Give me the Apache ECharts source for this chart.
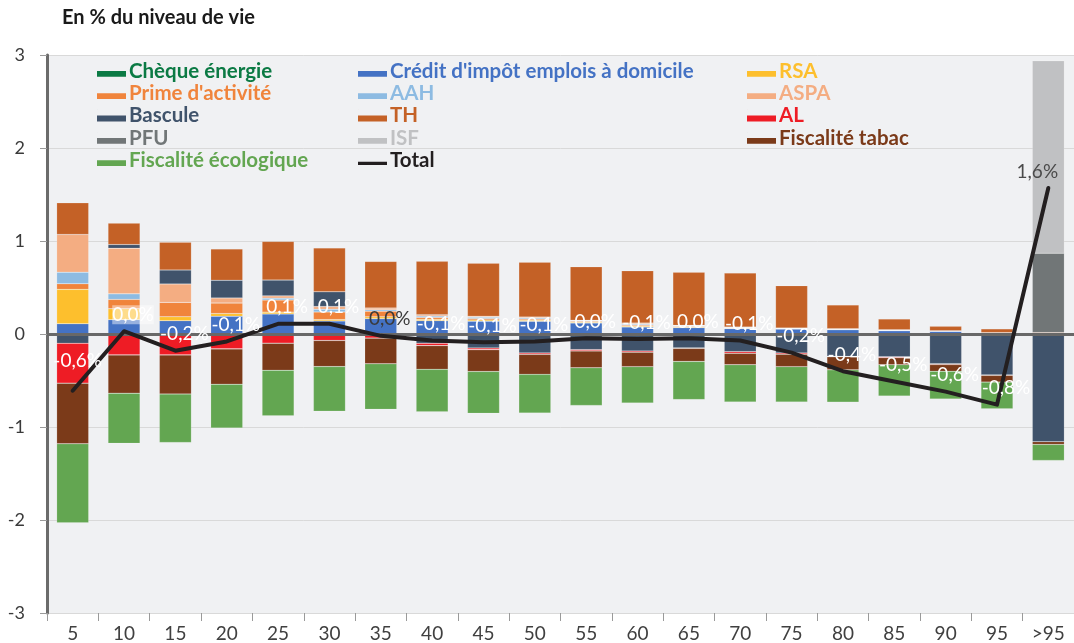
<!DOCTYPE html>
<html><head><meta charset="utf-8">
<script src="https://cdn.jsdelivr.net/npm/echarts@6/dist/echarts.min.js"></script>
<style>html,body{margin:0;padding:0;background:#fff}#c{width:1074px;height:643px}</style>
</head><body><div id="c"></div>
<script>
// ---- data (in % du niveau de vie) ----
const categories = ["5","10","15","20","25","30","35","40","45","50","55","60","65","70","75","80","85","90","95",">95"];
const yTicks = [-3,-2,-1,0,1,2,3];
const chequeEnergie = [0,0,0,0,0,0,0,0,0,0,0,0,0,0,0,0,0,0,0,0];
const creditImpot  = [0.11,0.154,0.143,0.19,0.215,0.14,0.165,0.143,0.136,0.136,0.118,0.075,0.068,0.057,0.054,0.047,0.036,0.029,0.01,0];
const rsa          = [0.37,0.118,0.043,0.03,0.02,0.015,0.02,0.015,0.015,0.012,0.01,0.01,0.008,0.006,0,0,0,0,0,0];
const primeActivite= [0.06,0.10,0.154,0.114,0.13,0.082,0.06,0.02,0.015,0.012,0.01,0.012,0.008,0.006,0.003,0,0,0,0,0];
const aah          = [0.125,0.06,0,0,0.02,0.029,0.015,0.015,0.015,0.012,0.005,0.01,0.005,0.003,0.003,0.004,0.004,0,0,0];
const aspa         = [0.405,0.49,0.198,0.054,0.025,0.029,0.02,0.015,0.01,0.01,0.005,0.01,0.004,0.003,0.005,0.006,0.006,0.006,0.005,0];
const bascule      = [-0.10,0.04,0.15,0.19,0.17,0.158,0,-0.10,-0.15,-0.204,-0.168,-0.183,-0.15,-0.19,-0.204,-0.24,-0.244,-0.319,-0.44,-1.158];
const th           = [0.34,0.23,0.298,0.337,0.415,0.473,0.5,0.573,0.57,0.59,0.575,0.563,0.57,0.58,0.455,0.255,0.115,0.047,0.04,0.015];
const al           = [-0.43,-0.226,-0.226,-0.16,-0.10,-0.07,-0.045,-0.025,-0.02,-0.015,-0.015,-0.014,-0.005,-0.018,-0.014,-0.005,-0.011,-0.01,-0.005,0];
const pfu          = [0,0,0,0,0,0,0,0,0,0,0,0,0,0,0,0,0,0,0,0.853];
const isf          = [0,0,0,0,0,0,0,0,0,0,0,0,0,0,0,0,0,0,0,2.07];
const tabac        = [-0.65,-0.41,-0.42,-0.38,-0.29,-0.28,-0.275,-0.255,-0.233,-0.215,-0.18,-0.154,-0.14,-0.122,-0.133,-0.14,-0.075,-0.072,-0.072,-0.029];
const ecologique   = [-0.85,-0.54,-0.52,-0.47,-0.49,-0.48,-0.49,-0.455,-0.45,-0.416,-0.405,-0.39,-0.41,-0.40,-0.38,-0.348,-0.337,-0.297,-0.287,-0.172];
const total        = [-0.61,0.03,-0.18,-0.08,0.11,0.11,-0.02,-0.07,-0.09,-0.08,-0.045,-0.055,-0.045,-0.07,-0.20,-0.40,-0.51,-0.62,-0.76,1.57];

// ---- styling ----
const colors = {
  "Chèque énergie": "#0b7a44",
  "Crédit d'impôt emplois à domicile": "#4472c4",
  "RSA": "#fdbf2d",
  "Prime d'activité": "#f0843c",
  "AAH": "#8dbbe2",
  "ASPA": "#f4ad82",
  "Bascule": "#40536b",
  "TH": "#c46126",
  "AL": "#ee1c25",
  "PFU": "#717677",
  "ISF": "#c0c1c3",
  "Fiscalité tabac": "#7b3a19",
  "Fiscalité écologique": "#63a651",
  "Total": "#231f20"
};
const barSeriesDef = [
  ["Chèque énergie", chequeEnergie],
  ["Crédit d'impôt emplois à domicile", creditImpot],
  ["RSA", rsa],
  ["Prime d'activité", primeActivite],
  ["AAH", aah],
  ["ASPA", aspa],
  ["Bascule", bascule],
  ["TH", th],
  ["AL", al],
  ["PFU", pfu],
  ["ISF", isf],
  ["Fiscalité tabac", tabac],
  ["Fiscalité écologique", ecologique]
];
const F = "Lato, 'Noto Sans', sans-serif";
const swatch = 'path://M0,0h0.1v0.1h-0.1z M0,6h30v6h-30z';
const lineSwatch = 'path://M0,0h0.1v0.1h-0.1z M0,7.5h30v3.5h-30z M0,11.9h0.1v0.1h-0.1z';

const series = barSeriesDef.map(([name, vals], i) => {
  const s = {
    name, type: 'bar', stack: 'all', data: vals, barWidth: 32,
    itemStyle: { color: colors[name], borderColor: 'rgba(255,255,255,0.3)', borderWidth: 0.5 },
    emphasis: { disabled: true }
  };
  if (i === barSeriesDef.length - 1) {
    s.markLine = {
      silent: true, symbol: ['none','none'], label: { show: false },
      lineStyle: { color: '#686868', width: 3, type: 'solid' },
      emphasis: { disabled: true },
      data: [{ yAxis: 0 }]
    };
  }
  return s;
});

function fmt(v) {
  let s = v.toFixed(1);
  if (s === '-0.0') s = '0.0';
  return s.replace('.', ',') + '%';
}
const labelTweaks = {
  0: { offset: [5, -16] },
  1: { backgroundColor: 'rgba(255,255,255,0.45)' },
  6: { color: '#3a3a3a' },
  19: { color: '#4a4a4a', offset: [-11, -3] }
};
series.push({
  name: 'Total', type: 'line', z: 6,
  data: total.map((v, i) => ({ value: v, label: labelTweaks[i] || {} })),
  symbol: 'circle', symbolSize: 0, showSymbol: true,
  lineStyle: { color: colors.Total, width: 4, cap: 'round', join: 'round' },
  itemStyle: { color: colors.Total },
  label: { show: true, position: 'top', distance: 4, offset: [9, -3], color: '#ffffff',
           fontFamily: F, fontSize: 19, lineHeight: 19, formatter: p => fmt(p.value) },
  emphasis: { disabled: true }
});

function legendCol(left, names) {
  return {
    orient: 'vertical', left, top: 60, padding: 0, itemGap: 0.3,
    itemWidth: 29, itemHeight: 12, selectedMode: false,
    itemStyle: { borderWidth: 0 },
    textStyle: { fontFamily: F, fontWeight: 'bold', fontSize: 20.5, lineHeight: 22, padding: [0,0,0,-2] },
    data: names.map(n => ({ name: n, icon: n === 'Total' ? lineSwatch : swatch, textStyle: { color: colors[n] } }))
  };
}

const option = {
  animation: false,
  title: { text: 'En % du niveau de vie', left: 62, top: 8, padding: 0,
           textStyle: { fontFamily: F, fontWeight: 'bold', fontSize: 20, color: '#1a1a1a' } },
  grid: { left: 47, right: -12, top: 55, bottom: 30, show: true, backgroundColor: '#f0f1f3', borderWidth: 0 },
  legend: [
    legendCol(97, ["Chèque énergie", "Prime d'activité", "Bascule", "PFU", "Fiscalité écologique"]),
    legendCol(358, ["Crédit d'impôt emplois à domicile", "AAH", "TH", "ISF", "Total"]),
    legendCol(747, ["RSA", "ASPA", "AL", "Fiscalité tabac"])
  ],
  xAxis: {
    type: 'category', data: categories, position: 'bottom',
    axisLine: { show: false, onZero: false },
    axisTick: { show: true, length: 8, lineStyle: { color: '#9a9a9a' } },
    axisLabel: { fontFamily: F, fontSize: 19, color: '#404040', margin: 11 },
    splitLine: { show: false }
  },
  yAxis: {
    type: 'value', min: yTicks[0], max: yTicks[yTicks.length - 1], interval: 1,
    axisLine: { show: true, lineStyle: { color: '#6b6b6b', width: 3 } },
    axisTick: { show: true, length: 7, lineStyle: { color: '#9a9a9a' } },
    axisLabel: { fontFamily: F, fontSize: 18, color: '#3a3a3a', margin: 22 },
    splitLine: { show: true, lineStyle: { color: '#d9d9d9', width: 1 } }
  },
  series
};
const chart = echarts.init(document.getElementById('c'), null, { renderer: 'canvas' });
chart.setOption(option);
</script></body></html>
